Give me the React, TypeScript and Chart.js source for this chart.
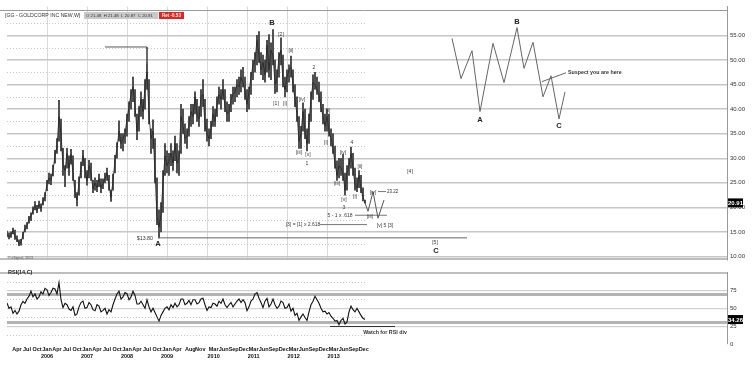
import React, { useEffect, useRef } from "react";
import { Chart, registerables } from "chart.js";
Chart.register(...registerables);

const FONT = "'Liberation Sans Narrow', 'Liberation Sans', Arial, sans-serif";

// ---------- price data (decimal year, high, low, close) ----------
const priceDates = [
  2005.00,2005.05,2005.10,2005.15,2005.20,2005.25,2005.30,2005.35,2005.40,2005.45,2005.50,2005.55,2005.60,2005.65,2005.70,2005.75,2005.80,2005.85,2005.90,2005.95,
  2006.00,2006.05,2006.10,2006.15,2006.20,2006.25,2006.30,2006.35,2006.40,2006.45,2006.50,2006.55,2006.60,2006.65,2006.70,2006.75,2006.80,2006.85,2006.90,2006.95,
  2007.00,2007.05,2007.10,2007.15,2007.20,2007.25,2007.30,2007.35,2007.40,2007.45,2007.50,2007.55,2007.60,2007.65,2007.70,2007.75,2007.80,2007.85,2007.90,2007.95,
  2008.00,2008.05,2008.10,2008.15,2008.20,2008.25,2008.30,2008.35,2008.40,2008.45,2008.50,2008.55,2008.60,2008.65,2008.70,2008.75,2008.80,2008.85,2008.90,2008.95,
  2009.00,2009.05,2009.10,2009.15,2009.20,2009.25,2009.30,2009.35,2009.40,2009.45,2009.50,2009.55,2009.60,2009.65,2009.70,2009.75,2009.80,2009.85,2009.90,2009.95,
  2010.00,2010.05,2010.10,2010.15,2010.20,2010.25,2010.30,2010.35,2010.40,2010.45,2010.50,2010.55,2010.60,2010.65,2010.70,2010.75,2010.80,2010.85,2010.90,2010.95,
  2011.00,2011.05,2011.10,2011.15,2011.20,2011.25,2011.30,2011.35,2011.40,2011.45,2011.50,2011.55,2011.60,2011.65,2011.70,2011.75,2011.80,2011.85,2011.90,2011.95,
  2012.00,2012.05,2012.10,2012.15,2012.20,2012.25,2012.30,2012.35,2012.40,2012.45,2012.50,2012.55,2012.60,2012.65,2012.70,2012.75,2012.80,2012.85,2012.90,2012.95,
  2013.00,2013.05,2013.10,2013.15,2013.20,2013.25,2013.30,2013.35,2013.40,2013.45,2013.50,2013.55,2013.60,2013.65,2013.70,2013.75,2013.80,2013.85,2013.90,2013.95,
];
const priceHigh = [
  15.2,14.8,15.0,15.8,15.4,14.2,13.4,13.5,14.9,16.4,16.9,18.2,18.9,20.1,21.2,20.4,21.3,20.7,22.0,23.0,
  25.5,27.0,26.8,28.6,31.6,34.0,41.8,38.0,32.0,28.5,32.0,30.5,31.8,30.5,25.5,23.0,26.2,29.2,31.6,30.0,
  27.5,29.6,29.0,25.5,26.0,25.5,26.8,25.8,25.8,27.0,28.0,26.5,23.5,26.8,30.6,33.2,37.6,35.0,35.0,36.0,
  39.0,41.5,44.0,46.5,44.0,39.0,40.5,43.5,42.0,46.0,49.2,46.0,36.0,37.8,34.0,26.0,19.5,21.0,27.5,33.0,
  31.5,31.0,33.0,31.5,34.5,33.0,31.5,41.0,40.0,37.0,36.0,38.5,41.0,41.0,43.5,42.0,40.5,44.0,46.0,42.0,
  38.0,36.0,37.5,40.5,40.0,42.5,44.5,44.0,46.0,44.0,41.5,41.0,43.0,44.5,44.5,46.0,46.5,48.0,48.5,46.5,
  44.0,44.5,47.5,50.0,51.5,55.0,55.8,51.5,51.0,50.0,54.0,55.2,53.5,56.2,50.0,48.0,51.5,54.5,51.0,46.5,
  48.0,49.0,50.8,48.0,45.0,42.5,38.5,36.5,41.3,40.0,36.0,39.0,43.5,47.0,47.5,46.5,45.5,43.5,41.0,39.0,
  40.0,39.0,36.0,35.0,32.5,29.5,30.0,30.0,30.8,27.0,28.5,30.0,32.3,31.0,28.0,26.0,27.5,26.5,24.0,21.48,
];
const priceLow = [
  14.0,13.6,13.9,14.6,13.5,13.0,12.2,12.3,13.6,15.0,15.6,16.8,17.3,18.6,19.5,18.9,19.8,19.2,20.5,21.3,
  23.4,24.8,24.6,26.4,29.0,31.0,33.5,31.5,26.5,24.2,28.0,26.5,28.8,25.5,22.0,20.3,22.5,26.0,28.5,26.0,
  24.5,26.0,25.5,23.0,23.5,23.2,24.2,23.0,23.8,25.0,25.5,23.5,21.2,23.5,27.0,30.0,33.5,32.0,31.5,33.0,
  34.5,37.5,40.0,41.5,38.5,33.8,35.5,38.5,38.0,40.0,44.0,37.0,31.0,32.0,25.0,16.5,13.8,15.0,19.0,26.5,
  27.0,26.5,28.5,27.5,29.5,27.0,26.5,31.0,35.0,33.0,32.0,34.5,36.5,37.0,39.0,37.5,36.5,38.5,40.5,35.5,
  33.5,32.5,34.0,36.5,36.5,38.5,41.0,40.0,42.0,39.5,37.5,37.5,39.5,41.0,41.5,42.5,43.0,43.5,44.5,42.0,
  39.5,40.0,43.0,46.0,47.5,49.0,49.5,47.0,46.0,45.5,47.5,46.5,46.0,49.0,43.2,43.5,46.5,49.0,44.5,42.5,
  43.5,45.5,46.5,43.5,40.5,37.5,32.0,32.0,35.5,34.0,31.5,33.0,37.5,42.0,44.0,43.0,41.5,39.5,37.0,35.5,
  35.5,34.5,32.5,31.0,28.0,25.5,26.0,26.5,25.5,22.5,23.5,26.5,28.0,26.5,23.5,23.2,24.0,23.0,21.3,20.87,
];
const priceClose = [
  14.6,14.0,14.4,15.3,14.0,13.5,12.6,12.9,14.4,15.8,16.3,17.6,18.2,19.4,20.4,19.5,20.6,19.8,21.3,22.2,
  24.8,26.0,25.5,27.5,30.5,32.5,38.5,35.0,28.5,27.5,31.0,28.0,30.8,27.0,23.0,21.5,25.0,28.0,30.5,27.5,
  25.5,28.5,27.0,23.8,25.0,24.0,25.8,24.0,24.8,26.0,27.0,24.5,22.0,25.5,29.5,32.0,35.5,33.0,34.0,35.0,
  38.0,40.5,43.0,44.5,40.5,35.5,39.0,42.0,39.5,44.5,47.5,39.0,34.0,35.5,27.0,18.0,16.0,18.5,25.0,30.5,
  28.5,29.5,31.0,29.0,33.0,29.0,30.0,38.5,36.5,34.0,34.5,37.0,39.5,38.5,42.5,39.0,38.0,42.5,43.0,37.0,
  35.0,34.0,36.0,39.0,37.5,41.0,43.0,42.0,44.0,40.5,39.0,39.5,42.0,43.0,43.5,45.0,44.5,46.5,45.5,43.5,
  41.0,43.5,46.5,49.0,50.0,54.0,51.0,48.0,49.5,47.0,53.0,48.0,52.0,51.0,45.0,46.5,50.5,52.0,45.5,44.0,
  46.5,48.0,48.5,45.0,42.0,39.0,33.5,35.0,39.5,35.5,33.0,37.5,42.0,45.5,45.0,44.0,43.0,40.5,38.5,36.5,
  38.5,35.5,34.0,32.0,29.0,26.5,28.5,28.0,27.0,23.5,27.0,28.5,31.0,28.0,24.5,24.0,26.5,24.0,22.0,20.91,
];

// ---------- RSI(14) ----------
const rsiDates = priceDates;
const rsiValues = [
  57.5,50,52,43,47,42,46,55,59.6,57,63,67,74,66,70,63,66,73,70,78,
  76,68,72,78,77,70,86,62,51,57,55,49,47,52,40,42,52,58,60,50,
  51,58,55,48,46.5,55,53,45,47,50,42,48,45,55,63,70,74,63,66,72,
  70.5,62,66,74,68,56,56,60,55,50,62,52,45,50,44,38,32,40,45,50,
  52,48,55,51,57,52,55,63,63,55,57,61,55,62,62,56,58,63,64,55,
  47,52,51,57,56,53,60,57,63,55,51,55,58,52,56,60,63,58,62,58,
  46.5,52,60,63,70,72,64,58,51,60,64,52,56,63,55,50,53,60,58,50,
  51,56,46,50,40,43,33,38,42,37,33,45,55,60,67,62,57,50,45,46,
  42,44,39,36,32,33,27,33,36,28,31,45,53,48,45,50,45,40,36,34.26,
];

// ---------- axes ----------
const priceTicks = [10, 15, 20, 25, 30, 35, 40, 45, 50, 55];
const priceDotted = [12.5, 17.5, 22.5, 27.5, 32.5, 37.5, 42.5, 47.5, 52.5, 57.5];
const rsiTicks = [0, 25, 30, 50, 70, 75];
const rsiDotted = [12.5, 37.5, 62.5, 87.5];
const yearGrid = [2006, 2007, 2008, 2009, 2010, 2011, 2012, 2013];
const axisMonths = ["Apr","Jul","Oct","Jan","Apr","Jul","Oct","Jan","Apr","Jul","Oct","Jan","Apr","Jul","Oct","Jan","Apr","Aug","Nov","Mar","Jun","Sep","Dec","Mar","Jun","Sep","Dec","Mar","Jun","Sep","Dec","Mar","Jun","Sep","Dec"];
const axisDates = [2005.25,2005.5,2005.75,2006.0,2006.25,2006.5,2006.75,2007.0,2007.25,2007.5,2007.75,2008.0,2008.25,2008.5,2008.75,2009.0,2009.25,2009.583,2009.833,2010.167,2010.417,2010.667,2010.917,2011.167,2011.417,2011.667,2011.917,2012.167,2012.417,2012.667,2012.917,2013.167,2013.417,2013.667,2013.917];
const axisYears = ["","","","2006","","","","2007","","","","2008","","","","2009","","","","2010","","","","2011","","","","2012","","","","2013","","",""];

// ---------- annotations ----------
const lastPrice = 20.91;
const lastRsi = 34.26;
const headerName = "[GG - GOLDCORP INC NEW,W]";
const headerQuote = "O 21.48  H 21.48  L 20.87  C 20.91";
const headerRet = "Ret -0.53";
const peakBracketDates = [2007.45, 2008.5, 2008.5];
const peakBracketPrices = [52.65, 52.65, 48.8];
const lowLineDates = [2008.775, 2016.5];
const lowLinePrices = [13.8, 13.8];
const projDates = [2013.95, 2014.025, 2014.15, 2014.275, 2014.425];
const projPrices = [20.91, 19.2, 23.2, 17.8, 21.5];
const fib2618Dates = [2012.825, 2014.0];
const fib2618Prices = [16.5, 16.5];
const fib618Dates = [2013.7, 2014.5];
const fib618Prices = [18.4, 18.4];
const ivDates = [2014.275, 2014.475];
const ivPrices = [23.22, 23.22];
const scenarioDates = [2016.125, 2016.35, 2016.625, 2016.825, 2017.15, 2017.425, 2017.75, 2017.925, 2018.15, 2018.4, 2018.6, 2018.8, 2018.95];
const scenarioPrices = [54.4, 46.2, 51.9, 39.5, 53.4, 45.4, 56.6, 48.3, 53.6, 42.5, 46.8, 38.0, 43.5];
const arrowDates = [2018.375, 2018.975];
const arrowPrices = [45.6, 47.4];
const rsiDivDates = [2013.075, 2014.7];
const rsiDivValues = [24.5, 24.5];

const waveLabels: [string, number, number][] = [
  ["[2]", 2011.85, 55.2], ["[ii]", 2012.1, 51.87], ["[1]", 2011.725, 41.1], ["[i]", 2011.95, 41.1],
  ["2", 2012.675, 48.54], ["[iv]", 2012.375, 41.9], ["[iii]", 2012.3, 31.13], ["[v]", 2012.525, 30.74],
  ["1", 2012.5, 28.98], ["[ii]", 2013.025, 39.74], ["[i]", 2012.975, 33.28], ["[iv]", 2013.4, 31.13],
  ["4", 2013.625, 33.09], ["[iii]", 2013.25, 24.87], ["[ii]", 2013.825, 28.39], ["[i]", 2013.7, 22.13],
  ["[v]", 2013.425, 21.54], ["3", 2013.425, 19.98], ["[iv]", 2014.15, 23.1], ["[iii]", 2014.075, 18.22],
  ["[v] 5 [3]", 2014.45, 16.26], ["[4]", 2015.075, 27.22], ["[5]", 2015.7, 12.74],
  ["[3] = [1] x 2.618", 2012.4, 16.5], ["5 - 1 x .618", 2013.325, 18.4],
];
const bigLabels: [string, number, number][] = [
  ["B", 2011.625, 57.54], ["A", 2008.775, 12.54], ["C", 2015.725, 11.17],
  ["A", 2016.825, 37.78], ["B", 2017.75, 57.74], ["C", 2018.8, 36.6],
];
const leftNotes: [string, number, number][] = [["23.22", 2014.5, 23.22]];
const boldNotes: [string, number, number][] = [["Suspect you are here", 2019.025, 47.4]];
const rightNotes: [string, number, number][] = [["$13.80", 2008.65, 13.72]];
const rsiNote: [string, number, number] = ["Watch for RSI div", 2014.45, 16.5];

const pts = (xs: number[], ys: number[]) => xs.map((x, i) => ({ x, y: ys[i] }));
const lineDs = (xs: number[], ys: number[], color: string, width = 1) => ({
  type: "line" as const,
  data: pts(xs, ys),
  borderColor: color,
  borderWidth: width,
  pointRadius: 0,
  tension: 0,
  order: 0,
});

function drawText(ctx: CanvasRenderingContext2D, s: string, x: number, y: number, size: number, color: string, align: CanvasTextAlign = "center", bold = false) {
  ctx.font = `${bold ? "bold " : ""}${size}px ${FONT}`;
  ctx.fillStyle = color;
  ctx.textAlign = align;
  ctx.textBaseline = "middle";
  ctx.fillText(s, x, y);
}

function valueBox(ctx: CanvasRenderingContext2D, s: string, x: number, y: number) {
  ctx.fillStyle = "#000";
  ctx.fillRect(x, y - 4.5, 15, 9);
  drawText(ctx, s, x + 7.5, y + 0.5, 6, "#fff", "center", true);
}

const pricePlugin = {
  id: "priceDecor",
  beforeDatasetsDraw(chart: any) {
    const { ctx, chartArea, scales } = chart;
    const x = scales.x, y = scales.y;
    ctx.save();
    ctx.setLineDash([1, 2]);
    ctx.strokeStyle = "#c4c4c4";
    ctx.lineWidth = 1;
    const xEnd = x.getPixelForValue(2014.0);
    priceDotted.forEach((v) => {
      const py = Math.round(y.getPixelForValue(v)) + 0.5;
      ctx.beginPath();
      ctx.moveTo(chartArea.left, py);
      ctx.lineTo(xEnd, py);
      ctx.stroke();
    });
    ctx.setLineDash([]);
    ctx.strokeStyle = "#9a9a9a";
    ctx.beginPath();
    ctx.moveTo(0, 10.5);
    ctx.lineTo(chartArea.right, 10.5);
    ctx.stroke();
    ctx.strokeStyle = "#a8a8a8";
    ctx.lineWidth = 1.5;
    ctx.beginPath();
    ctx.moveTo(0, chartArea.bottom - 0.5);
    ctx.lineTo(chartArea.right, chartArea.bottom - 0.5);
    ctx.stroke();
    ctx.restore();
  },
  afterDraw(chart: any) {
    const { ctx, chartArea, scales } = chart;
    const x = scales.x, y = scales.y;
    ctx.save();
    // header
    drawText(ctx, headerName, 5, 15.5, 5.2, "#333", "left");
    ctx.fillStyle = "#c9c9c9";
    ctx.fillRect(84, 12, 74, 7);
    drawText(ctx, headerQuote, 86, 15.5, 4.3, "#333", "left");
    ctx.fillStyle = "#e8221c";
    ctx.fillRect(159, 12, 25, 7);
    drawText(ctx, headerRet, 171.5, 15.5, 4.5, "#fff", "center", true);
    drawText(ctx, "\u00a9 eSignal, 2013", 8, 258, 3.5, "#555", "left");
    waveLabels.forEach(([t, d, p]) => drawText(ctx, t, x.getPixelForValue(d), y.getPixelForValue(p), 5, "#3a3a3a"));
    bigLabels.forEach(([t, d, p]) => drawText(ctx, t, x.getPixelForValue(d), y.getPixelForValue(p), 7.5, "#222", "center", true));
    leftNotes.forEach(([t, d, p]) => drawText(ctx, t, x.getPixelForValue(d), y.getPixelForValue(p), 4.5, "#333", "left"));
    boldNotes.forEach(([t, d, p]) => drawText(ctx, t, x.getPixelForValue(d), y.getPixelForValue(p), 5.3, "#333", "left", true));
    rightNotes.forEach(([t, d, p]) => drawText(ctx, t, x.getPixelForValue(d), y.getPixelForValue(p), 5.3, "#333", "right"));
    valueBox(ctx, lastPrice.toFixed(2), chartArea.right + 1, y.getPixelForValue(lastPrice));
    ctx.restore();
  },
};

const rsiPlugin = {
  id: "rsiDecor",
  beforeDatasetsDraw(chart: any) {
    const { ctx, chartArea, scales } = chart;
    const x = scales.x, y = scales.y;
    ctx.save();
    ctx.setLineDash([1, 2]);
    ctx.strokeStyle = "#c4c4c4";
    ctx.lineWidth = 1;
    const xEnd = x.getPixelForValue(2014.0);
    rsiDotted.forEach((v) => {
      const py = Math.round(y.getPixelForValue(v)) + 0.5;
      ctx.beginPath();
      ctx.moveTo(chartArea.left, py);
      ctx.lineTo(xEnd, py);
      ctx.stroke();
    });
    ctx.setLineDash([]);
    ctx.strokeStyle = "#a8a8a8";
    ctx.lineWidth = 1.5;
    ctx.beginPath();
    ctx.moveTo(0, chartArea.top + 0.5);
    ctx.lineTo(chartArea.right, chartArea.top + 0.5);
    ctx.stroke();
    ctx.restore();
  },
  afterDraw(chart: any) {
    const { ctx, chartArea, scales } = chart;
    const x = scales.x, y = scales.y;
    ctx.save();
    drawText(ctx, "RSI(14,C)", 8, 6, 5.5, "#222", "left", true);
    drawText(ctx, rsiNote[0], x.getPixelForValue(rsiNote[1]), y.getPixelForValue(rsiNote[2]), 5.3, "#333", "center", true);
    valueBox(ctx, lastRsi.toFixed(2), chartArea.right + 1, y.getPixelForValue(lastRsi));
    ctx.restore();
  },
};

export default function App() {
  const priceRef = useRef<HTMLCanvasElement>(null);
  const rsiRef = useRef<HTMLCanvasElement>(null);

  useEffect(() => {
    const tickFont = { size: 6, family: FONT };
    const pc = new Chart(priceRef.current as HTMLCanvasElement, {
      type: "bar",
      data: {
        datasets: [
          {
            type: "bar",
            data: priceDates.map((d, i) => ({ x: d, y: [priceLow[i], priceHigh[i]] })) as any,
            backgroundColor: "#4d4d4d",
            borderWidth: 0,
            barThickness: 1.3,
            grouped: false,
            order: 2,
          } as any,
          { ...lineDs(priceDates, priceClose, "#262626", 0.8), order: 1 },
          lineDs(peakBracketDates, peakBracketPrices, "#555"),
          lineDs(lowLineDates, lowLinePrices, "#666"),
          lineDs(projDates, projPrices, "#555"),
          lineDs(fib2618Dates, fib2618Prices, "#777"),
          lineDs(fib618Dates, fib618Prices, "#777"),
          lineDs(ivDates, ivPrices, "#777"),
          lineDs(scenarioDates, scenarioPrices, "#666"),
          lineDs(arrowDates, arrowPrices, "#666"),
        ] as any,
      },
      options: {
        responsive: false,
        animation: false,
        events: [],
        layout: { padding: { left: 7, right: 0, top: 0, bottom: 3 } },
        plugins: { legend: { display: false }, tooltip: { enabled: false } },
        scales: {
          x: {
            type: "linear",
            min: 2005,
            max: 2023,
            offset: false,
            afterFit: (s: any) => { s.height = 0; },
            afterBuildTicks: (s: any) => { s.ticks = yearGrid.map((v) => ({ value: v })); },
            ticks: { display: false },
            grid: { color: "#d9d9d9", lineWidth: 1, drawTicks: false, offset: false },
            border: { display: false },
          },
          y: {
            position: "right",
            min: 9.413,
            max: 60.87,
            afterFit: (s: any) => { s.width = 26; },
            afterBuildTicks: (s: any) => { s.ticks = priceTicks.map((v) => ({ value: v })); },
            ticks: { font: tickFont, color: "#333", padding: 3, callback: (v: any) => Number(v).toFixed(2) },
            grid: { color: "#c6c6c6", lineWidth: 1.5, drawTicks: false },
            border: { display: true, color: "#999", width: 1 },
          },
        },
      } as any,
      plugins: [pricePlugin],
    });

    const rc = new Chart(rsiRef.current as HTMLCanvasElement, {
      type: "line",
      data: {
        datasets: [
          { ...lineDs(rsiDates, rsiValues, "#111", 1.1) },
          lineDs(rsiDivDates, rsiDivValues, "#333"),
        ] as any,
      },
      options: {
        responsive: false,
        animation: false,
        events: [],
        layout: { padding: { left: 7, right: 0, top: 2, bottom: 0 } },
        plugins: { legend: { display: false }, tooltip: { enabled: false } },
        scales: {
          x: {
            type: "linear",
            min: 2005,
            max: 2023,
            afterFit: (s: any) => { s.height = 25; },
            afterBuildTicks: (s: any) => { s.ticks = axisDates.map((v) => ({ value: v })); },
            ticks: {
              autoSkip: false,
              maxRotation: 0,
              minRotation: 0,
              padding: 2,
              color: "#111",
              font: { size: 5.5, family: FONT, weight: "bold", lineHeight: 1.25 },
              callback: (_v: any, i: number) => (axisYears[i] ? [axisMonths[i], axisYears[i]] : axisMonths[i]),
            },
            grid: { display: false, drawTicks: false },
            border: { display: false },
          },
          y: {
            position: "right",
            min: 0,
            max: 100,
            afterFit: (s: any) => { s.width = 26; },
            afterBuildTicks: (s: any) => { s.ticks = rsiTicks.map((v) => ({ value: v })); },
            ticks: {
              font: tickFont,
              color: "#333",
              padding: 3,
              callback: (v: any) => (v === 30 || v === 70 ? "" : String(v)),
            },
            grid: {
              drawTicks: false,
              color: (c: any) => (c.tick && (c.tick.value === 30 || c.tick.value === 70) ? "#b3b3b3" : c.tick && c.tick.value === 0 ? "rgba(0,0,0,0)" : "#d2d2d2"),
              lineWidth: (c: any) => (c.tick && (c.tick.value === 30 || c.tick.value === 70) ? 3 : 1.2),
            },
            border: { display: true, color: "#999", width: 1 },
          },
        },
      } as any,
      plugins: [rsiPlugin],
    });

    return () => {
      pc.destroy();
      rc.destroy();
    };
  }, []);

  return (
    <div style={{ position: "absolute", left: 0, top: 0, width: 753, height: 369, background: "#fff" }}>
      <canvas ref={priceRef} width={753} height={266} style={{ position: "absolute", left: 0, top: 0, width: 753, height: 266 }} />
      <canvas ref={rsiRef} width={753} height={103} style={{ position: "absolute", left: 0, top: 266, width: 753, height: 103 }} />
    </div>
  );
}
